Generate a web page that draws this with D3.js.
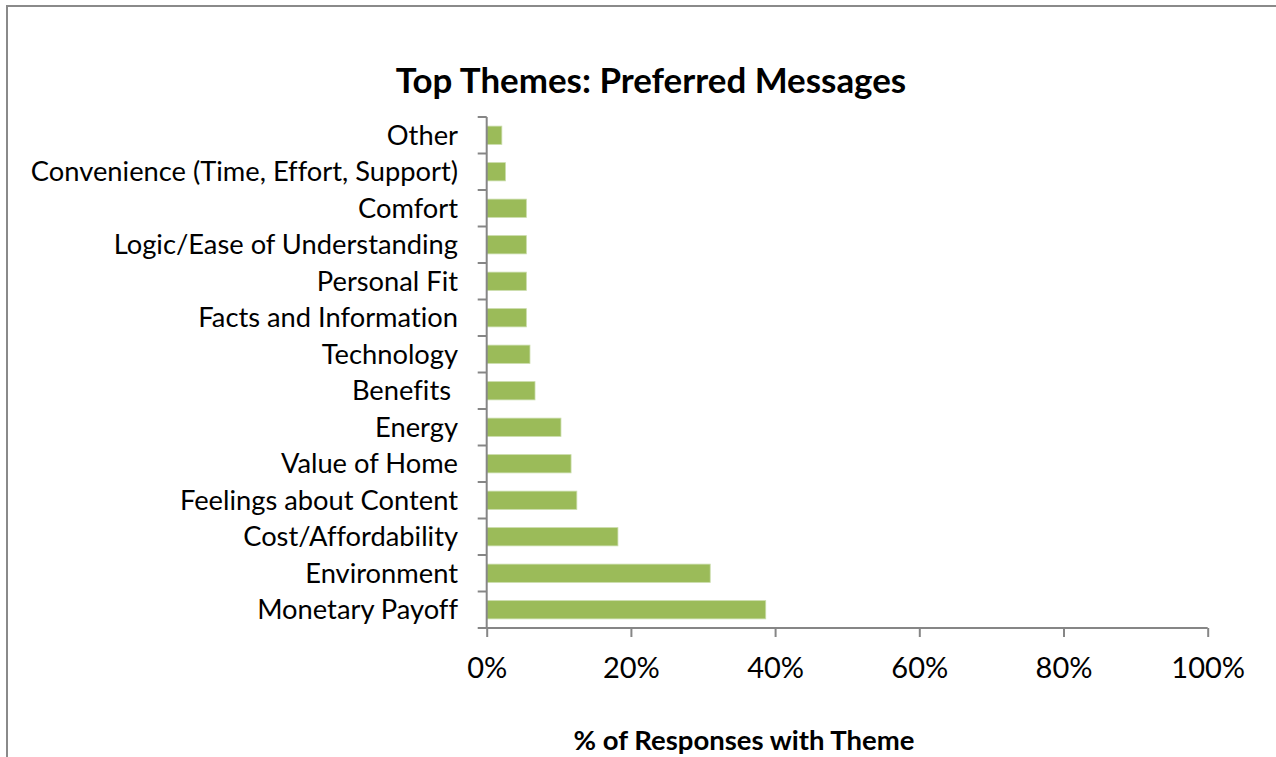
<!DOCTYPE html>
<html>
<head>
<meta charset="utf-8">
<script src="https://cdn.jsdelivr.net/npm/d3@7/dist/d3.min.js"></script>
<style>
  html, body { margin: 0; padding: 0; background: #fff; }
  svg { display: block; }
  text { font-family: Lato, "Open Sans", sans-serif; fill: #000; font-variant-ligatures: none; }
</style>
</head>
<body>
<svg id="chart" width="1276" height="757"></svg>
<script>
// Themes, listed top to bottom as they appear on the chart
const categories = [
  "Other",
  "Convenience (Time, Effort, Support)",
  "Comfort",
  "Logic/Ease of Understanding",
  "Personal Fit",
  "Facts and Information",
  "Technology",
  "Benefits ",
  "Energy",
  "Value of Home",
  "Feelings about Content",
  "Cost/Affordability",
  "Environment",
  "Monetary Payoff"
];
// Share of responses mentioning each theme (%)
const shares = [2.1, 2.6, 5.5, 5.5, 5.5, 5.5, 6.0, 6.7, 10.3, 11.7, 12.5, 18.2, 31.0, 38.7];
const xTicks = [0, 20, 40, 60, 80, 100];

const titleText = "Top Themes: Preferred Messages";
const xTitleText = "% of Responses with Theme";

const svg = d3.select("#chart");
const W = 1276, H = 757;

// Chart-area frame
svg.append("rect")
  .attr("x", 7).attr("y", 6)
  .attr("width", W + 10).attr("height", H + 10)
  .attr("fill", "none")
  .attr("stroke", "#8a8a8a")
  .attr("stroke-width", 2);

const plot = { left: 486.7, right: 1207.7, top: 117, bottom: 628 };

const x = d3.scaleLinear().domain([0, 100]).range([plot.left, plot.right]);
const y = d3.scaleBand().domain(categories).range([plot.top, plot.bottom]).paddingInner(0.5).paddingOuter(0.25);

// Bars
svg.append("g").selectAll("rect")
  .data(categories)
  .join("rect")
  .attr("x", x(0))
  .attr("y", d => y(d))
  .attr("width", (d, i) => x(shares[i]) - x(0))
  .attr("height", y.bandwidth())
  .attr("fill", "#9bbb59")
  .attr("stroke", "#c9dcaa")
  .attr("stroke-width", 0.8);

const axisColor = "#868686";

// Category axis: ticks sit on band boundaries
const yAxis = svg.append("g");
const bounds = d3.range(categories.length + 1).map(i => plot.top + i * (plot.bottom - plot.top) / categories.length);
yAxis.append("line")
  .attr("x1", x(0)).attr("x2", x(0))
  .attr("y1", plot.top).attr("y2", plot.bottom)
  .attr("stroke", axisColor).attr("stroke-width", 2);
yAxis.selectAll("line.tick")
  .data(bounds)
  .join("line")
  .attr("class", "tick")
  .attr("x1", x(0) - 9).attr("x2", x(0))
  .attr("y1", d => d).attr("y2", d => d)
  .attr("stroke", axisColor).attr("stroke-width", 2);
yAxis.selectAll("text")
  .data(categories)
  .join("text")
  .attr("x", 458)
  .attr("y", d => y(d) + y.bandwidth() / 2)
  .attr("dy", "0.35em")
  .attr("text-anchor", "end")
  .style("font-size", "27.3px")
  .style("white-space", "pre")
  .text(d => d);

// Value axis
const xAxis = svg.append("g")
  .attr("transform", `translate(0,${plot.bottom})`)
  .call(d3.axisBottom(x).tickValues(xTicks).tickFormat(d => d + "%").tickSize(9).tickPadding(20));
xAxis.select(".domain").attr("stroke", axisColor).attr("stroke-width", 2).attr("d", `M${x(0)},0H${x(100)}`);
xAxis.selectAll(".tick line").attr("stroke", axisColor).attr("stroke-width", 2);
xAxis.selectAll(".tick text")
  .attr("font-family", null)
  .attr("font-size", null)
  .style("font-size", "29px")
  .attr("fill", "#000");

// Titles
svg.append("text")
  .attr("x", 651).attr("y", 93)
  .attr("text-anchor", "middle")
  .style("font-size", "34.9px")
  .style("font-weight", "bold")
  .text(titleText);

svg.append("text")
  .attr("x", 744).attr("y", 750)
  .attr("text-anchor", "middle")
  .style("font-size", "27.5px")
  .style("font-weight", "bold")
  .text(xTitleText);
</script>
</body>
</html>
